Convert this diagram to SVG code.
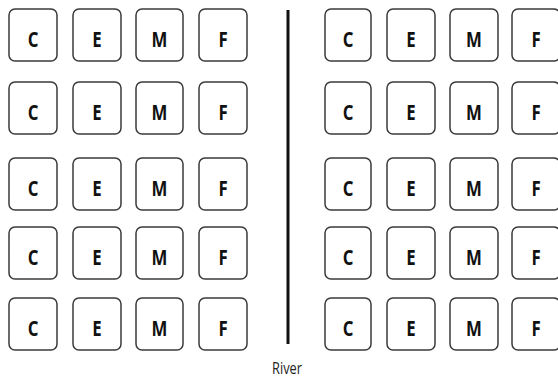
<svg xmlns="http://www.w3.org/2000/svg" width="558" height="380" viewBox="0 0 558 380">
<style>
.b{fill:#fff;stroke:#3a3a3a;stroke-width:1.5}
.t{font-family:"Open Sans","Liberation Sans",sans-serif;font-weight:700;font-size:21px;fill:#111;text-anchor:middle}
.r{font-family:"Open Sans","Liberation Sans",sans-serif;font-size:16px;fill:#222;text-anchor:middle}
</style>
<defs>
<g id="row">
<rect class="b" x="9" y="0" width="48" height="52" rx="6"/>
<rect class="b" x="73" y="0" width="48" height="52" rx="6"/>
<rect class="b" x="136" y="0" width="47" height="52" rx="6"/>
<rect class="b" x="199" y="0" width="48" height="52" rx="6"/>
<rect class="b" x="325" y="0" width="46" height="52" rx="6"/>
<rect class="b" x="387" y="0" width="48" height="52" rx="6"/>
<rect class="b" x="450" y="0" width="48" height="52" rx="6"/>
<rect class="b" x="512" y="0" width="48" height="52" rx="6"/>
<g transform="scale(0.8,1)">
<text class="t" x="41.25" y="38">C</text>
<text class="t" x="121.25" y="38">E</text>
<text class="t" x="199.4" y="38">M</text>
<text class="t" x="278.75" y="38">F</text>
<text class="t" x="435" y="38">C</text>
<text class="t" x="513.75" y="38">E</text>
<text class="t" x="592.5" y="38">M</text>
<text class="t" x="670" y="38">F</text>
</g>
</g>
</defs>
<g id="row1"><use href="#row" y="9"/></g>
<g id="row2"><use href="#row" y="82"/></g>
<g id="row3"><use href="#row" y="158"/></g>
<g id="row4"><use href="#row" y="227"/></g>
<g id="row5"><use href="#row" y="298"/></g>
<g id="river">
<line x1="288" y1="10" x2="288" y2="344" stroke="#111" stroke-width="3"/>
<text class="r" transform="scale(0.8,1)" x="358.75" y="374">River</text>
</g>
</svg>
